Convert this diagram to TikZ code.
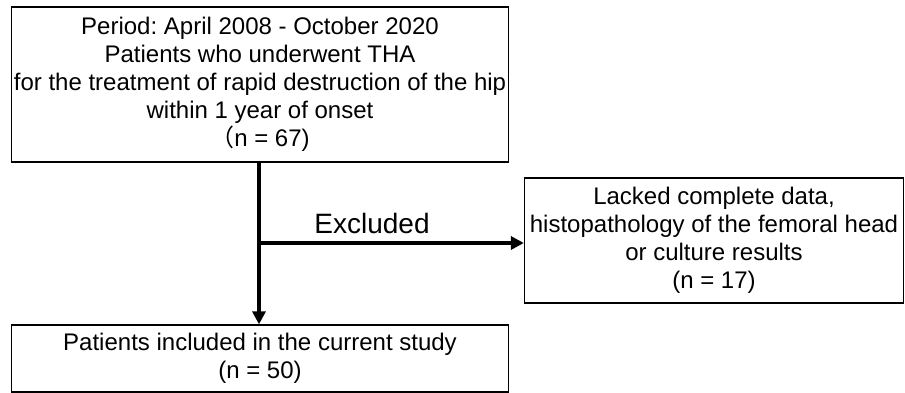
\documentclass[tikz,border=0pt]{standalone}
\usepackage{fontspec}
\setmainfont{Liberation Sans}
\newfontfamily\cjk{Noto Sans CJK SC}
\usetikzlibrary{arrows.meta}
\frenchspacing
\begin{document}
\begin{tikzpicture}[x=1pt,y=-1pt,
  boxstyle/.style={draw=black,line width=1.3pt,inner sep=0pt,align=center,
    font=\fontsize{24}{28}\selectfont},
  flow/.style={line width=4pt,-{Triangle[length=13pt,width=13pt]}}]
\useasboundingbox (0,0) rectangle (905,393);
\node[boxstyle,minimum width=497pt,minimum height=155pt] (top) at (260,84.5)
  {Period: April 2008 - October 2020\\Patients who underwent THA\\for the treatment of rapid destruction of the hip\\within 1 year of onset\\{\cjk （}n = 67)};
\node[boxstyle,minimum width=497pt,minimum height=67pt] (bot) at (260,358.5)
  {Patients included in the current study\\(n = 50)};
\node[boxstyle,minimum width=379pt,minimum height=125pt] (rgt) at (714,240.5)
  {Lacked complete data,\\histopathology of the femoral head\\or culture results\\(n = 17)};
\coordinate (j) at (259,243);
\draw[flow] (top.south -| j) -- (bot.north -| j);
\draw[flow] (j) -- (rgt.west |- j);
\node[font=\fontsize{28}{30}\selectfont] (ex) at (372,223) {Excluded};
\end{tikzpicture}
\end{document}
